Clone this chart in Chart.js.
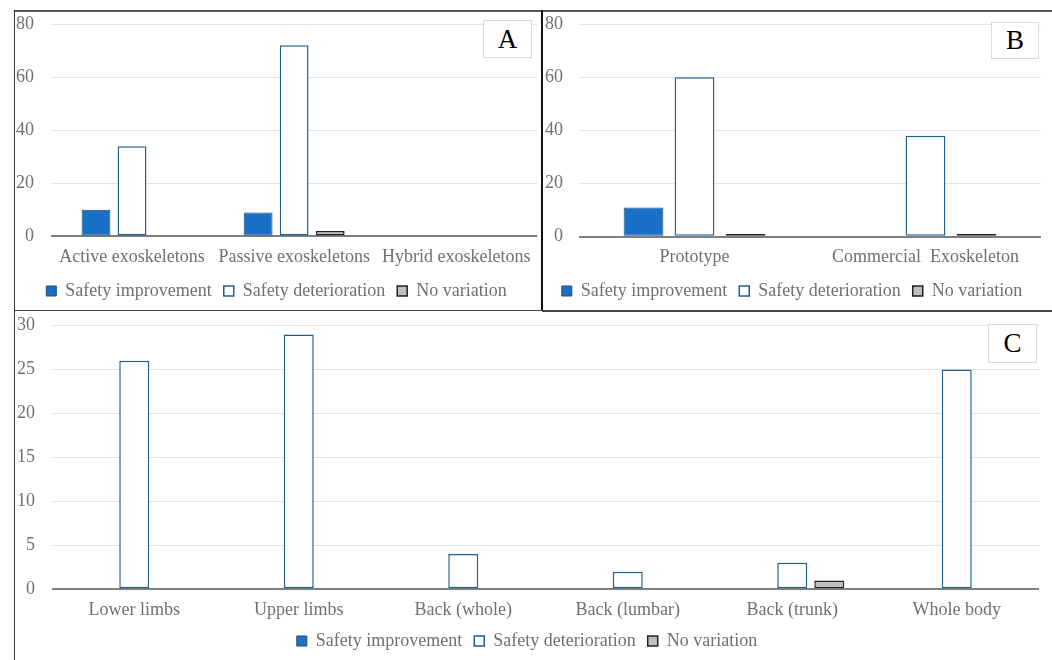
<!DOCTYPE html>
<html>
<head>
<meta charset="utf-8">
<script src="https://cdn.jsdelivr.net/npm/chart.js@4.4.1/dist/chart.umd.min.js"></script>
<style>
  html, body { margin: 0; padding: 0; background: #fff; }
  body { width: 1052px; height: 660px; position: relative; overflow: hidden; font-family: 'Liberation Serif', 'Times New Roman', serif; }
  canvas { position: absolute; }
  .line { position: absolute; background: #3a3a3a; }
  .tag { position: absolute; background: #fff; border: 1px solid #d9d9d9; box-sizing: border-box;
         font-family: 'Liberation Serif', 'Times New Roman', serif; font-size: 27px; color: #000;
         display: flex; align-items: center; justify-content: center; }
</style>
</head>
<body>
<canvas id="chartA" width="526" height="299" style="left:15px; top:11px;"></canvas>
<canvas id="chartB" width="509" height="299" style="left:543px; top:11px;"></canvas>
<canvas id="chartC" width="1037" height="349" style="left:15px; top:311px;"></canvas>

<!-- panel frames -->
<div class="line" style="left:14px; top:10px; width:1038px; height:1.5px; background:#555;"></div>
<div class="line" style="left:14px; top:10px; width:1px; height:650px; background:#333;"></div>
<div class="line" style="left:541px; top:10px; width:2px; height:300px; background:#111;"></div>
<div class="line" style="left:14px; top:310px; width:528px; height:1px; background:#444;"></div>
<div class="line" style="left:542px; top:309.5px; width:510px; height:2px; background:#444;"></div>

<div class="tag" style="left:483px; top:20px; width:49px; height:38px;">A</div>
<div class="tag" style="left:991px; top:22px; width:48px; height:37px;">B</div>
<div class="tag" style="left:988px; top:324px; width:49px; height:39px;">C</div>

<script>
// ---- data ----
const seriesNames = ['Safety improvement', 'Safety deterioration', 'No variation'];

const catsA = ['Active exoskeletons', 'Passive exoskeletons', 'Hybrid exoskeletons'];
const improveA = [10, 9, 0];
const deteriorA = [34, 72, 0];
const noVarA = [0, 2, 0];

const catsB = ['Prototype', 'Commercial  Exoskeleton'];
const improveB = [11, 0];
const deteriorB = [60, 38];
const noVarB = [1, 1];

const catsC = ['Lower limbs', 'Upper limbs', 'Back (whole)', 'Back (lumbar)', 'Back (trunk)', 'Whole body'];
const improveC = [0, 0, 0, 0, 0, 0];
const deteriorC = [26, 29, 4, 2, 3, 25];
const noVarC = [0, 0, 0, 0, 1, 0];

const ticksAB = [0, 20, 40, 60, 80];
const ticksC = [0, 5, 10, 15, 20, 25, 30];

// ---- styling ----
const FONT = "'Liberation Serif', 'Times New Roman', serif";
const TXT = '#707070';

function makeDatasets(imp, det, nv, cp, bp) {
  const common = { categoryPercentage: cp, barPercentage: bp, borderSkipped: false };
  return [
    Object.assign({ label: seriesNames[0], data: imp, backgroundColor: '#1a6fc6', borderColor: '#1f4e79', borderWidth: 1 }, common),
    Object.assign({ label: seriesNames[1], data: det, backgroundColor: '#ffffff', borderColor: '#1f5f8f', borderWidth: 1.5 }, common),
    Object.assign({ label: seriesNames[2], data: nv, backgroundColor: '#bfbfbf', borderColor: '#222222', borderWidth: 1.5 }, common)
  ];
}

function makeChart(id, cats, datasets, max, tickVals, yWidth, tickPad, pad, fontSize, xHeight) {
  return new Chart(document.getElementById(id), {
    type: 'bar',
    data: { labels: cats, datasets: datasets },
    options: {
      responsive: false,
      animation: false,
      devicePixelRatio: 1,
      layout: { padding: pad },
      plugins: {
        tooltip: { enabled: false },
        legend: {
          position: 'bottom',
          labels: {
            boxWidth: 10, boxHeight: 10, padding: 12,
            color: TXT,
            font: { family: FONT, size: fontSize }
          }
        }
      },
      scales: {
        x: {
          afterFit: (s) => { s.height = xHeight; s._computeLabelArea = () => undefined; },
          grid: { display: false, drawTicks: false },
          border: { display: false },
          ticks: { color: TXT, padding: 10, maxRotation: 0, autoSkip: false, font: { family: FONT, size: fontSize } }
        },
        y: {
          min: 0, max: max,
          afterFit: (s) => { s.width = yWidth; s.paddingTop = 0; s.paddingBottom = 0; },
          afterBuildTicks: (s) => { s.ticks = tickVals.map(v => ({ value: v })); },
          grid: {
            drawTicks: false,
            color: (c) => (c.tick && c.tick.value === 0) ? '#7f7f7f' : '#e3e3e3',
            lineWidth: (c) => (c.tick && c.tick.value === 0) ? 2 : 1
          },
          border: { display: false },
          ticks: { color: TXT, padding: tickPad, font: { family: FONT, size: fontSize } }
        }
      }
    }
  });
}

makeChart('chartA', catsA, makeDatasets(improveA, deteriorA, noVarA, 0.667, 0.8), 80, ticksAB, 36, 17,
  { top: 13, right: 3, left: 0, bottom: 0 }, 18, 33.6);
makeChart('chartB', catsB, makeDatasets(improveB, deteriorB, noVarB, 0.662, 0.78), 80, ticksAB, 36, 16,
  { top: 13, right: 11, left: 0, bottom: 0 }, 18, 33.3);
makeChart('chartC', catsC, makeDatasets(improveC, deteriorC, noVarC, 0.675, 0.81), 30, ticksC, 37, 17,
  { top: 14.7, right: 13, left: 0, bottom: 0 }, 18, 30.8);
</script>
</body>
</html>
